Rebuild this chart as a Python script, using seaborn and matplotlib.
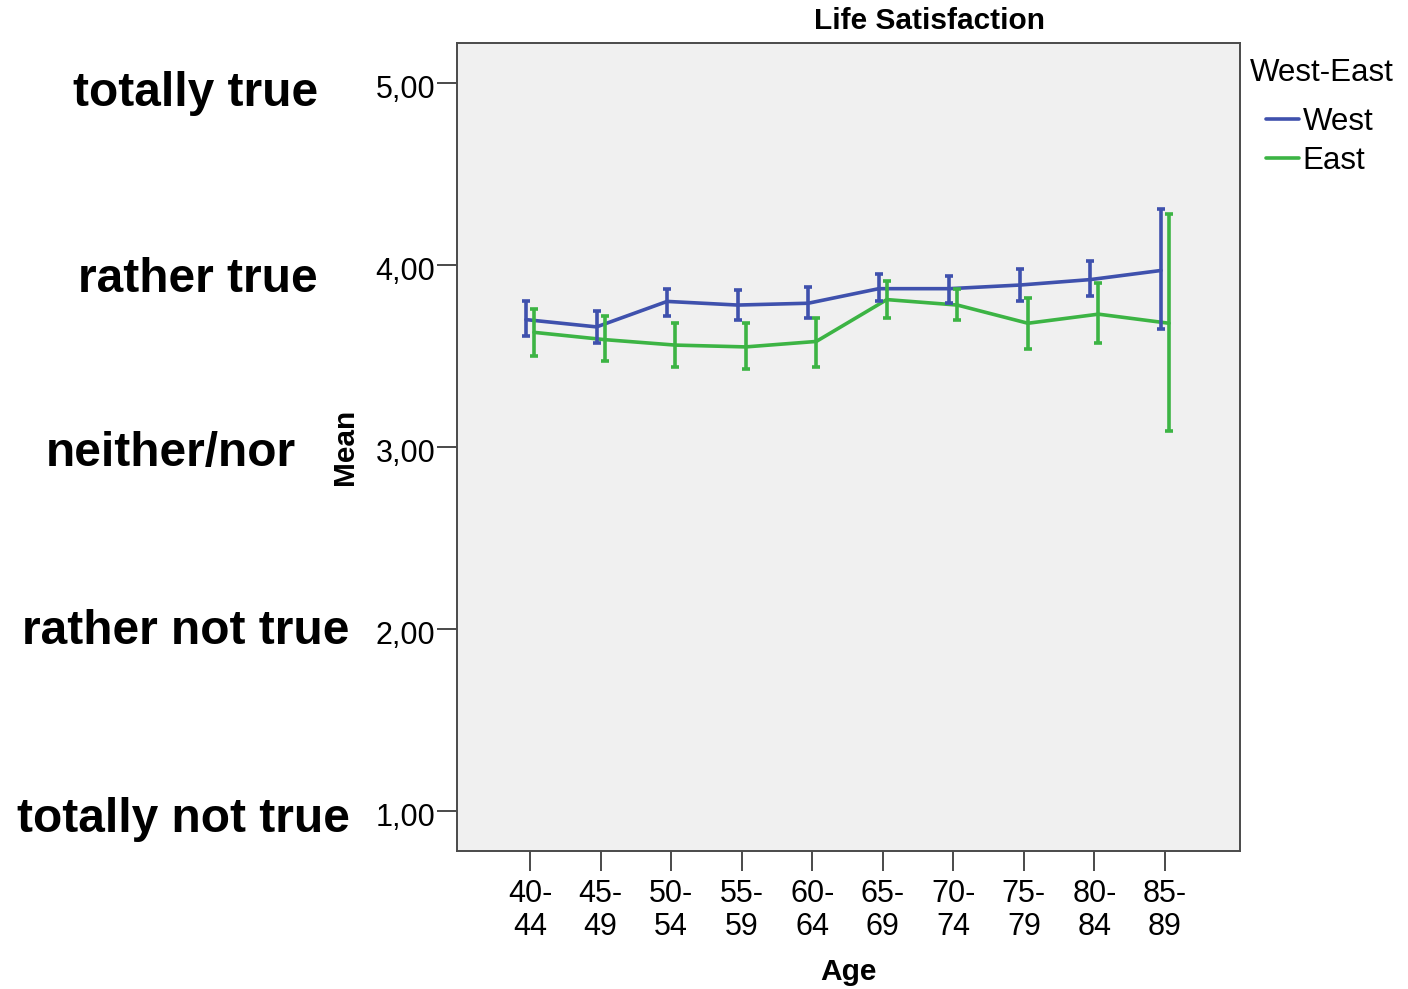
import numpy as np
import pandas as pd
import matplotlib
matplotlib.use("Agg")
import matplotlib.pyplot as plt
from matplotlib.lines import Line2D
from matplotlib.transforms import ScaledTranslation
import seaborn as sns

# ---- data ----
age_groups = ["40-44", "45-49", "50-54", "55-59", "60-64",
              "65-69", "70-74", "75-79", "80-84", "85-89"]
west_mean = [3.70, 3.66, 3.80, 3.78, 3.79, 3.87, 3.87, 3.89, 3.92, 3.97]
west_lo   = [3.61, 3.57, 3.72, 3.70, 3.71, 3.80, 3.79, 3.80, 3.83, 3.65]
west_hi   = [3.80, 3.75, 3.87, 3.86, 3.88, 3.95, 3.94, 3.98, 4.02, 4.31]
east_mean = [3.63, 3.59, 3.56, 3.55, 3.58, 3.81, 3.78, 3.68, 3.73, 3.68]
east_lo   = [3.50, 3.47, 3.44, 3.43, 3.44, 3.71, 3.70, 3.54, 3.57, 3.09]
east_hi   = [3.76, 3.72, 3.68, 3.68, 3.71, 3.91, 3.87, 3.82, 3.90, 4.28]
y_ticks = [1, 2, 3, 4, 5]
y_tick_labels = ["1,00", "2,00", "3,00", "4,00", "5,00"]
scale_labels = ["totally not true", "rather not true", "neither/nor",
                "rather true", "totally true"]
groups = ["West", "East"]

# ---- style ----
sns.set_theme(style="ticks")
plt.rcParams["font.family"] = ["Liberation Sans", "DejaVu Sans"]
plt.rcParams["text.color"] = "black"
plt.rcParams["axes.labelcolor"] = "black"

colors = {"West": "#3f51ad", "East": "#3cb444"}
dodge = {"West": -0.057, "East": 0.057}

rows = []
for g, m, lo, hi in [("West", west_mean, west_lo, west_hi),
                     ("East", east_mean, east_lo, east_hi)]:
    for i, a in enumerate(age_groups):
        rows.append({"group": g, "age": a, "xpos": i + dodge[g],
                     "mean": m[i], "lo": lo[i], "hi": hi[i]})
df = pd.DataFrame(rows)

W, H = 1408, 989
fig = plt.figure(figsize=(W / 100, H / 100), dpi=100)
fig.patch.set_facecolor("white")
ax = fig.add_axes([457 / W, 1 - 851 / H, (1240 - 457) / W, (851 - 43) / H])
ax.set_facecolor("#f0f0f0")

sns.lineplot(data=df, x="xpos", y="mean", hue="group", hue_order=groups,
             palette=colors, linewidth=2.6, ax=ax, legend=False,
             estimator=None, sort=True)

for g in groups:
    d = df[df["group"] == g]
    ax.errorbar(d["xpos"], d["mean"],
                yerr=[d["mean"] - d["lo"], d["hi"] - d["mean"]],
                fmt="none", ecolor=colors[g], elinewidth=2.6,
                capsize=3.2, capthick=2.6, zorder=3)

ax.set_xlim(-1.035, 10.063)
ax.set_ylim(0.78, 5.22)
ax.set_xticks(range(len(age_groups)))
ax.set_xticklabels([a.replace("-", "-\n") for a in age_groups],
                   fontsize=22, linespacing=1.12)
ax.set_yticks(y_ticks)
ax.set_yticklabels(y_tick_labels, fontsize=22)
ax.tick_params(axis="both", direction="out", length=14.5, width=1.4,
               color="#4a4a4a", labelcolor="black")
ax.tick_params(axis="y", pad=1.0)
ax.tick_params(axis="x", pad=5.5)
ax.set_xlabel("")
ax.set_ylabel("")
for s in ax.spines.values():
    s.set_visible(True)
    s.set_color("#4a4a4a")
    s.set_linewidth(1.4)

shift = ScaledTranslation(0, -0.035, fig.dpi_scale_trans)
for lab in ax.get_yticklabels():
    lab.set_transform(lab.get_transform() + shift)

def fx(px):
    return px / W

def fy(py):
    return 1 - py / H

fig.text(fx(929), fy(21), "Life Satisfaction", ha="center", va="center",
         fontsize=21.5, fontweight="bold")
fig.text(fx(848), fy(972), "Age", ha="center", va="center",
         fontsize=21.5, fontweight="bold")
fig.text(fx(345), fy(447), "Mean", ha="center", va="center", rotation=90,
         fontsize=21.5, fontweight="bold")

label_pos = [(17, 820), (22, 632), (46, 454), (78, 280), (73, 94)]
for lab, (px, py) in zip(scale_labels, label_pos):
    fig.text(fx(px), fy(py), lab, ha="left", va="center",
             fontsize=34.5, fontweight="bold")

# legend
fig.text(fx(1250), fy(73), "West-East", ha="left", va="center", fontsize=22.5)
handles = [Line2D([0], [0], color=colors[g], linewidth=2.6) for g in groups]
fig.legend(handles, groups, loc="upper left",
           bbox_to_anchor=(fx(1266), fy(107)), frameon=False, fontsize=22.5,
           handlelength=1.05, handletextpad=0.12, borderpad=0,
           borderaxespad=0, labelspacing=0.3)

fig.savefig("out.png", dpi=100, facecolor="white")
